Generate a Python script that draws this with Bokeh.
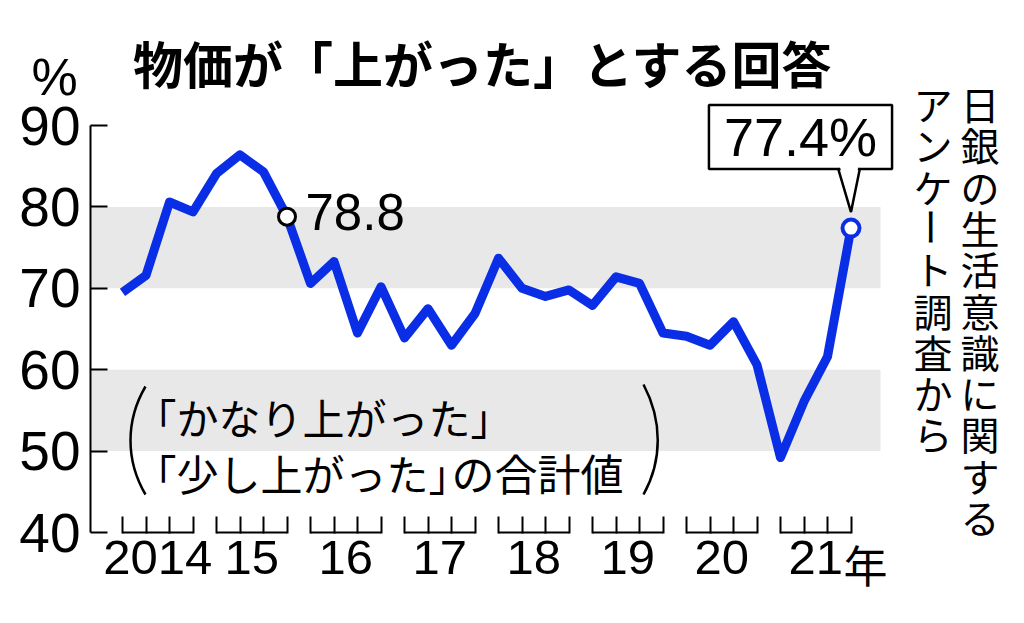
import math
from bokeh.plotting import figure
from bokeh.models import Range1d, FixedTicker, BoxAnnotation, Label
from bokeh.embed import file_html
from bokeh.resources import INLINE

# ---------------- data ----------------
years = ["2014", "15", "16", "17", "18", "19", "20", "21"]
year_suffix = "年"
# quarterly values 2014 Q1 .. 2021 Q4 (%)
values = [69.5, 71.6, 80.6, 79.4, 84.1, 86.4, 84.3, 78.8,
          70.6, 73.3, 64.5, 70.2, 63.9, 67.5, 63.0, 66.9,
          73.7, 70.0, 69.0, 69.8, 67.9, 71.4, 70.6, 64.5,
          64.1, 63.0, 65.9, 60.6, 49.2, 56.1, 61.6, 77.4]
y_ticks = [40, 50, 60, 70, 80, 90]
bands = [(50, 60), (70, 80)]
mark_index = 7
title_text = "物価が「上がった」とする回答"
unit_text = "%"
note_line1 = "「かなり上がった」"
note_line2a = "「少し上がった」"
note_line2b = "の合計値"
source_cols = ["日銀の生活意識に関する", "アンケート調査から"]

# ---------------- layout helpers (picture px -> data) ----------------
PX0, DPX = 122.0, 23.5
PY40, DPY = 532.0, 8.14
def X(px): return (px - PX0) / DPX
def Y(py): return 40 + (PY40 - py) / DPY

BLUE = "#0a2ee6"
BAND = "#e8e8e8"
LAT = "Liberation Sans"
JP = "Noto Sans CJK JP"

W, H = 1008, 607
p = figure(width=W, height=H, output_backend="svg", toolbar_location=None,
           x_range=Range1d(X(0), X(W)), y_range=Range1d(Y(H), Y(0)),
           min_border=0, title=None)
p.outline_line_color = None
p.grid.visible = False
p.background_fill_color = "white"
p.border_fill_color = "white"

for lo, hi in bands:
    p.add_layout(BoxAnnotation(bottom=lo, top=hi, left=X(91), right=X(880),
                               fill_color=BAND, fill_alpha=1,
                               line_color=None, level="underlay"))

# y axis (fixed inside the full-canvas frame)
ya = p.yaxis[0]
ya.fixed_location = X(90)
ya.bounds = (y_ticks[0], y_ticks[-1])
ya.ticker = FixedTicker(ticks=y_ticks)
ya.axis_line_width = 2
ya.axis_line_color = "black"
ya.major_tick_in = 17
ya.major_tick_out = 0
ya.major_tick_line_width = 2
ya.minor_tick_line_color = None
ya.major_label_text_font = LAT
ya.major_label_text_font_size = "55px"
ya.major_label_text_color = "black"
ya.major_label_standoff = 10

# x axis: quarter ticks + year labels
n = len(values)
xs = list(range(n))
centers = [4 * k + 1.5 for k in range(len(years))]
xa = p.xaxis[0]
xa.fixed_location = Y(533)
xa.ticker = FixedTicker(ticks=centers, minor_ticks=xs)
xa.major_label_overrides = {c: yl for c, yl in zip(centers, years)}
xa.axis_line_color = None
xa.major_tick_line_color = None
xa.major_tick_in = 0
xa.major_tick_out = 0
xa.minor_tick_in = 17
xa.minor_tick_out = 0
xa.minor_tick_line_width = 2
xa.minor_tick_line_color = "black"
xa.major_label_text_font = LAT
xa.major_label_text_font_size = "49px"
xa.major_label_text_color = "black"
xa.major_label_standoff = 7

starts = [4 * k for k in range(len(years))]
ends = [4 * k + 3 for k in range(len(years))]
p.segment(x0=starts, x1=ends, y0=[y_ticks[0]] * len(starts), y1=[y_ticks[0]] * len(starts),
          line_width=2, line_color="black")

# main line
p.line(xs, values, line_width=9, line_color=BLUE, line_join="round")
p.scatter([xs[mark_index]], [values[mark_index]], size=17, fill_color="white",
          line_color="black", line_width=3)
p.scatter([xs[-1]], [values[-1]], size=17, fill_color="white",
          line_color=BLUE, line_width=4)

# labels
p.add_layout(Label(x=X(305), y=Y(211), text=f"{values[mark_index]:.1f}",
                   text_font=LAT, text_font_size="51px", text_color="black",
                   text_align="left", text_baseline="middle"))

p.add_layout(Label(x=X(800), y=Y(136.5), text=f"{values[-1]:.1f}%",
                   text_font=LAT, text_font_size="54px", text_color="black",
                   text_align="center", text_baseline="middle",
                   background_fill_color="white", background_fill_alpha=1,
                   border_line_color="black", border_line_width=2.5,
                   padding=dict(x=15, y=2)))

# pointer of the callout
lx, lv = xs[-1], values[-1]
tip_y = lv + 16 / DPY
base_y = lv + 60 / DPY
bl = lx - 13 / DPX
br = lx + 9 / DPX
p.patch([bl + 1.5 / DPX, br - 1.5 / DPX, lx], [base_y + 3 / DPY, base_y + 3 / DPY, tip_y],
        fill_color="white", line_color=None, level="overlay")
p.line([bl, lx, br], [base_y, tip_y, base_y], line_width=2.5, line_color="black",
       level="overlay")

# note with parentheses
p.bezier(x0=[X(145), X(643)], y0=[Y(386), Y(384)], x1=[X(145), X(643)], y1=[Y(494), Y(494)],
         cx0=[X(125), X(662)], cy0=[Y(420), Y(420)], cx1=[X(125), X(662)], cy1=[Y(460), Y(460)],
         line_width=2.5, line_color="black")
p.add_layout(Label(x=X(134), y=Y(416), text=note_line1, text_font=JP, text_font_size="42px",
                   text_color="black", text_align="left", text_baseline="middle"))
p.add_layout(Label(x=X(134), y=Y(471.5), text=note_line2a, text_font=JP, text_font_size="42px",
                   text_color="black", text_align="left", text_baseline="middle"))
p.add_layout(Label(x=X(451), y=Y(471.5), text=note_line2b, text_font=JP, text_font_size="43px",
                   text_color="black", text_align="left", text_baseline="middle"))

# title and unit
p.add_layout(Label(x=X(482.5), y=Y(61), text=title_text, text_font=JP,
                   text_font_size="50px", text_font_style="bold", text_color="black",
                   text_align="center", text_baseline="middle"))
p.add_layout(Label(x=X(31), y=Y(76.5), text=unit_text, text_font=LAT,
                   text_font_size="52px", text_color="black",
                   text_align="left", text_baseline="middle"))
# 年 after last year label
p.add_layout(Label(x=X(843), y=Y(563), text=year_suffix, text_font=JP,
                   text_font_size="44px", text_color="black",
                   text_align="left", text_baseline="middle"))

# vertical source text
for col, cx in zip(source_cols, [979.5, 932.5]):
    for k, ch in enumerate(col):
        ang = -math.pi / 2 if ch == "ー" else 0
        p.add_layout(Label(x=X(cx), y=Y(102.5 + 41.3 * k), text=ch, text_font=JP,
                           text_font_size="39px", text_color="black", angle=ang,
                           text_align="center", text_baseline="middle"))

open("out.html", "w").write(file_html(p, INLINE))
